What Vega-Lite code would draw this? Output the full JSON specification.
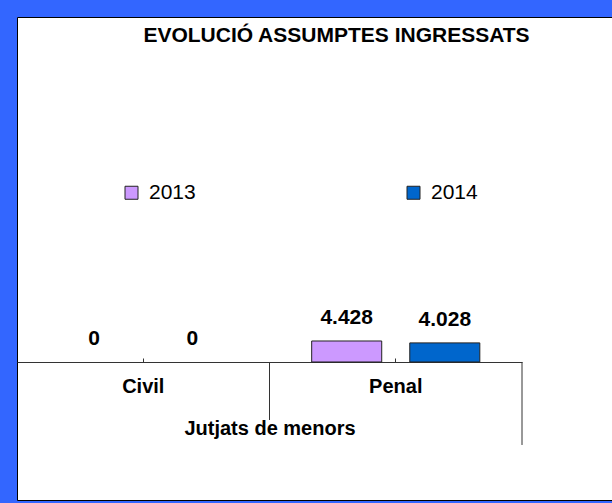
{
  "$schema": "https://vega.github.io/schema/vega-lite/v6.json",
  "autosize": {"type": "none"},
  "width": 595,
  "height": 483,
  "padding": {"left": 17, "top": 17, "right": 0, "bottom": 3},
  "background": "#3366ff",
  "config": {
    "view": {"fill": "#ffffff", "stroke": "#000000", "strokeWidth": 1},
    "font": "Liberation Sans",
    "locale": {"number": {"decimal": ",", "thousands": ".", "grouping": [3], "currency": ["", " €"]}}
  },
  "title": {
    "text": "EVOLUCIÓ ASSUMPTES INGRESSATS",
    "fontSize": 21,
    "fontWeight": "bold",
    "font": "Liberation Sans",
    "color": "#000000",
    "anchor": "middle",
    "frame": "group",
    "dx": 22,
    "dy": 20,
    "offset": -26,
    "baseline": "alphabetic"
  },
  "data": {
    "values": [
      {"jurisdiccio": "Civil", "any": "2013", "assumptes": 0},
      {"jurisdiccio": "Civil", "any": "2014", "assumptes": 0},
      {"jurisdiccio": "Penal", "any": "2013", "assumptes": 4428},
      {"jurisdiccio": "Penal", "any": "2014", "assumptes": 4028}
    ]
  },
  "encoding": {
    "x": {
      "field": "jurisdiccio",
      "type": "nominal",
      "sort": ["Civil", "Penal"],
      "scale": {"range": [0, 505], "paddingInner": 0, "paddingOuter": 0},
      "axis": {
        "title": "Jutjats de menors",
        "titleFont": "Liberation Sans",
        "titleFontSize": 20,
        "titleFontWeight": "bold",
        "titleColor": "#000000",
        "titlePadding": 22,
        "labelFont": "Liberation Sans",
        "labelFontSize": 20,
        "labelFontWeight": "bold",
        "labelColor": "#000000",
        "labelAngle": 0,
        "labelPadding": 18,
        "offset": -138,
        "domainColor": "#333333",
        "tickColor": "#333333",
        "tickSize": -4,
        "grid": false
      }
    },
    "y": {
      "field": "assumptes",
      "type": "quantitative",
      "scale": {"domain": [-29100, 72740], "nice": false, "zero": false},
      "axis": null
    }
  },
  "layer": [
    {
      "mark": {"type": "bar", "stroke": "#222222", "strokeWidth": 1},
      "encoding": {
        "xOffset": {"field": "any", "type": "nominal", "scale": {"paddingInner": 0.286, "paddingOuter": 0.43}},
        "y2": {"datum": 0},
        "strokeOpacity": {"condition": {"test": "datum.assumptes == 0", "value": 0}, "value": 1},
        "color": {
          "field": "any",
          "type": "nominal",
          "scale": {"domain": ["2013", "2014"], "range": ["#cc99ff", "#0066cc"]},
          "legend": {
            "orient": "none",
            "legendX": 104,
            "legendY": 165,
            "direction": "horizontal",
            "title": null,
            "symbolType": "square",
            "symbolSize": 169,
            "symbolStrokeColor": "#222222",
            "symbolStrokeWidth": 1,
            "symbolOpacity": 1,
            "labelFont": "Liberation Sans",
            "labelFontSize": 21,
            "labelColor": "#000000",
            "labelOffset": 7,
            "columnPadding": 207
          }
        }
      }
    },
    {
      "mark": {"type": "text", "dy": -17, "baseline": "alphabetic", "fontSize": 21, "fontWeight": "bold", "color": "#000000"},
      "encoding": {
        "xOffset": {"field": "any", "type": "nominal", "scale": {"paddingInner": 0.286, "paddingOuter": 0.43}},
        "text": {"field": "assumptes", "type": "quantitative", "format": ",d"}
      }
    },
    {
      "transform": [{"filter": "datum.jurisdiccio == 'Penal' && datum.any == '2013'"}],
      "mark": {"type": "rule", "color": "#333333", "strokeWidth": 1},
      "encoding": {
        "x": {"field": "jurisdiccio", "type": "nominal", "sort": ["Civil", "Penal"], "bandPosition": 0},
        "y": {"datum": 0},
        "y2": {"datum": -12230}
      }
    },
    {
      "transform": [{"filter": "datum.jurisdiccio == 'Penal' && datum.any == '2013'"}],
      "mark": {"type": "rule", "color": "#333333", "strokeWidth": 1},
      "encoding": {
        "x": {"field": "jurisdiccio", "type": "nominal", "sort": ["Civil", "Penal"], "bandPosition": 1},
        "y": {"datum": 0},
        "y2": {"datum": -17500}
      }
    }
  ]
}
